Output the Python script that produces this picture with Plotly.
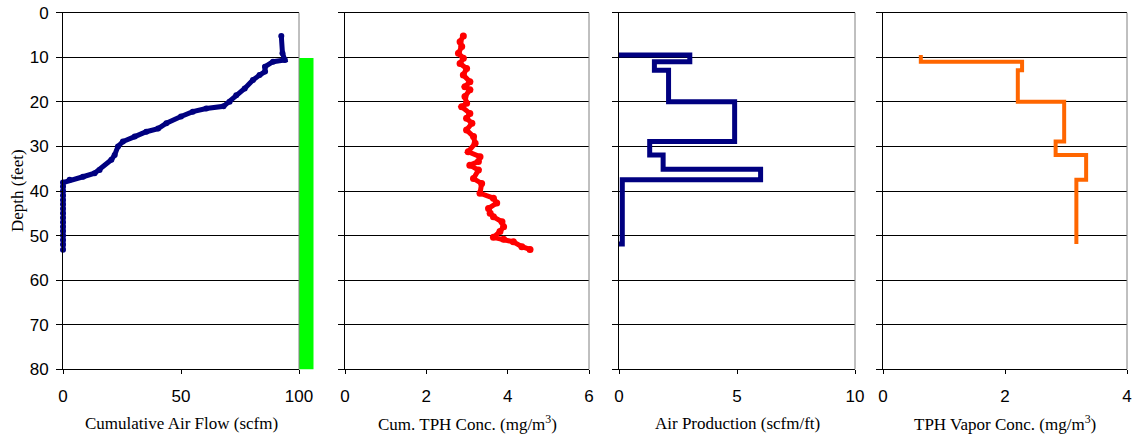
import plotly.graph_objects as go

W, H = 1138, 439

# ---------------- data ----------------
# Panel 1: cumulative air flow (scfm) vs depth (ft)
flow_depth = [5.2, 9.1, 10.6, 11.0, 12.1, 13.2, 14.0, 15.1, 17.0, 18.5, 20.0, 21.0, 21.5, 22.2,
              23.3, 24.8, 26.0, 26.7, 27.8, 28.9, 30.0, 31.9, 33.0, 35.3, 36.0, 36.8, 37.5,
              38.1, 39.0, 40.0, 41.0, 42.0, 43.0, 44.0, 45.0, 46.0, 47.0, 48.0, 49.0, 50.0,
              51.0, 52.0, 53.2]
flow_value = [92.5, 93.0, 94.0, 89.0, 85.6, 85.6, 83.3, 80.5, 77.0, 73.4, 70.6, 68.0, 60.7, 55.0,
              50.0, 43.8, 40.3, 35.3, 30.4, 25.4, 23.3, 21.9, 20.5, 15.5, 13.4, 8.5, 2.8,
              0.0, 0.0, 0.0, 0.0, 0.0, 0.0, 0.0, 0.0, 0.0, 0.0, 0.0, 0.0, 0.0,
              0.0, 0.0, 0.0]

# Screened interval (green bar)
screen_top = 10
screen_bottom = 80

# Panel 2: cumulative TPH concentration (mg/m3)
tph_depth = [5.2, 6.5, 7.6, 9.1, 10.2, 11.4, 12.5, 14.0, 15.5, 16.6, 17.3, 18.8, 20.3, 21.1,
             22.6, 23.7, 24.8, 26.3, 27.8, 29.3, 31.2, 32.3, 33.4, 34.2, 35.3, 37.2, 38.3,
             40.5, 41.6, 42.7, 43.9, 45.0, 45.8, 46.9, 48.0, 49.1, 50.4, 50.8, 51.4, 52.5, 53.1]
tph_value = [2.91, 2.83, 2.87, 2.79, 2.91, 2.83, 2.99, 2.91, 3.07, 2.95, 3.07, 2.95, 2.99, 2.87,
             3.07, 2.99, 3.12, 2.99, 3.16, 3.20, 3.03, 3.32, 3.28, 3.07, 3.28, 3.16, 3.36,
             3.32, 3.65, 3.73, 3.53, 3.57, 3.65, 3.86, 3.90, 3.81, 3.65, 3.90, 4.14, 4.35, 4.55]

# Panel 3: air production (scfm/ft), interval breaks and values
air_breaks = [9.5, 11.0, 12.9, 20.0, 28.9, 31.9, 35.1, 37.5, 51.9]
air_values = [3.0, 1.5, 2.1, 4.9, 1.3, 1.87, 6.0, 0.14]

# Panel 4: TPH vapor concentration (mg/m3), interval breaks and values
vap_breaks = [9.5, 11.0, 12.9, 20.0, 28.9, 31.9, 37.5, 51.9]
vap_values = [0.62, 2.28, 2.21, 2.97, 2.83, 3.33, 3.17]

x_titles = ["Cumulative Air Flow (scfm)", "Cum. TPH Conc. (mg/m<sup>3</sup>)",
            "Air Production (scfm/ft)", "TPH Vapor Conc. (mg/m<sup>3</sup>)"]
x_ranges = [[0, 100], [0, 6], [0, 10], [0, 4]]
x_dticks = [50, 2, 5, 2]
y_title = "Depth (feet)"

# ---------------- layout geometry (pixels) ----------------
panels_px = [(63, 299), (345, 589), (619, 855), (883, 1127)]
top_px, bot_px = 12.7, 369.3
ydom = [(H - bot_px) / H, (H - top_px) / H]


def step_path(breaks, values, zero_ends):
    xs, ys = [], []
    if zero_ends:
        xs.append(0); ys.append(breaks[0])
    for i, v in enumerate(values):
        xs += [v, v]
        ys += [breaks[i], breaks[i + 1]]
    if zero_ends:
        xs.append(0); ys.append(breaks[-1])
    return xs, ys


fig = go.Figure()

navy = "#000080"
fig.add_trace(go.Scatter(x=flow_value, y=flow_depth, mode="lines+markers",
                         line=dict(color=navy, width=5), marker=dict(color=navy, size=6),
                         xaxis="x", yaxis="y", showlegend=False, cliponaxis=False))
fig.add_trace(go.Scatter(x=tph_value, y=tph_depth, mode="lines+markers",
                         line=dict(color="#FF0000", width=5), marker=dict(color="#FF0000", size=7),
                         xaxis="x2", yaxis="y2", showlegend=False, cliponaxis=False))
ax, ay = step_path(air_breaks, air_values, True)
fig.add_trace(go.Scatter(x=ax, y=ay, mode="lines",
                         line=dict(color=navy, width=5),
                         xaxis="x3", yaxis="y3", showlegend=False, cliponaxis=False))
vx, vy = step_path(vap_breaks, vap_values, False)
fig.add_trace(go.Scatter(x=vx, y=vy, mode="lines",
                         line=dict(color="#FF6600", width=4),
                         xaxis="x4", yaxis="y4", showlegend=False, cliponaxis=False))
# green screen bar
fig.add_trace(go.Bar(x=[0.5], y=[screen_bottom - screen_top], base=[screen_top], width=[1],
                     marker=dict(color="#00FF00", line=dict(width=0)),
                     xaxis="x5", yaxis="y5", showlegend=False, hoverinfo="skip"))

tick_font = dict(family="Liberation Sans, Arial", size=17, color="black")
title_font = dict(family="Liberation Serif, Times New Roman", size=17, color="black")

layout = dict(width=W, height=H, margin=dict(l=0, r=0, t=0, b=0, autoexpand=False),
              paper_bgcolor="white", plot_bgcolor="white", bargap=0,
              showlegend=False)

for i, (x0, x1) in enumerate(panels_px):
    n = "" if i == 0 else str(i + 1)
    layout["xaxis" + n] = dict(domain=[x0 / W, x1 / W], range=x_ranges[i], dtick=x_dticks[i],
                               anchor="y" + n, showgrid=False, zeroline=False,
                               showline=True, linecolor="black", linewidth=1, mirror=True,
                               ticks="outside", ticklen=4, tickcolor="black",
                               tickfont=tick_font, ticklabelstandoff=7, fixedrange=True,
                               automargin=False)
    layout["yaxis" + n] = dict(domain=ydom, range=[80, 0], dtick=10, anchor="x" + n,
                               showgrid=True, gridcolor="black", gridwidth=1, zeroline=False,
                               showline=True, linecolor="black", linewidth=1,
                               ticks="outside", ticklen=6, tickcolor="black",
                               showticklabels=(i == 0), tickfont=tick_font,
                               ticklabelstandoff=4, fixedrange=True, automargin=False)

layout["xaxis5"] = dict(domain=[299 / W, 313.5 / W], range=[0, 1], anchor="y5", visible=False)
layout["yaxis5"] = dict(domain=ydom, range=[80, 0], anchor="x5", visible=False)

shapes = []
for i in range(4):
    n = "" if i == 0 else str(i + 1)
    shapes.append(dict(type="line", xref="x" + n + " domain", yref="y" + n + " domain",
                       x0=1, x1=1, y0=0, y1=1, line=dict(color="#808080", width=1)))
layout["shapes"] = shapes

annotations = []
for i, (x0, x1) in enumerate(panels_px):
    annotations.append(dict(text=x_titles[i], x=(x0 + x1) / 2 / W, y=(H - 423) / H,
                            xref="paper", yref="paper", showarrow=False,
                            xanchor="center", yanchor="middle", font=title_font))
annotations.append(dict(text=y_title, x=17 / W, y=(H - 191) / H, xref="paper", yref="paper",
                        showarrow=False, textangle=-90, xanchor="center", yanchor="middle",
                        font=title_font))
layout["annotations"] = annotations

fig.update_layout(**layout)
fig.write_html("out.html")
